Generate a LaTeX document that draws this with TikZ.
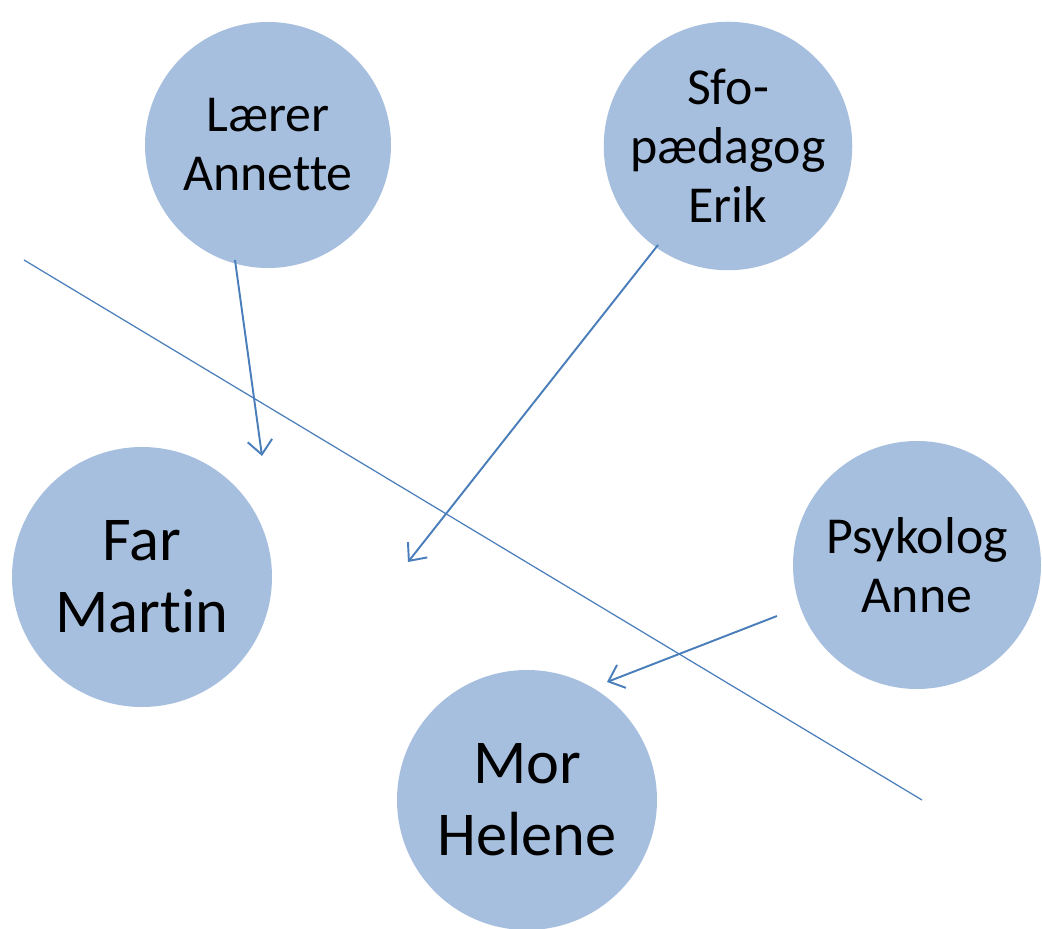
\documentclass[tikz,border=0pt]{standalone}
\usepackage{fontspec}
\setmainfont{Carlito}[Ligatures={NoCommon}]
\usetikzlibrary{arrows.meta}

\definecolor{circfill}{RGB}{167,191,222}
\definecolor{linkblue}{RGB}{74,126,187}

\begin{document}
\begin{tikzpicture}[x=0.02cm, y=-0.02cm,
    person/.style={circle, fill=circfill, inner sep=0pt, align=center},
    small/.style={person, minimum size=246*0.02cm, font=\fontsize{29.5}{33.6}\selectfont},
    big/.style={person, minimum size=260*0.02cm, font=\fontsize{35.5}{41}\selectfont},
    link/.style={draw=linkblue, line width=1.1pt, -{Straight Barb[length=8pt, width=14pt, line width=1.1pt]}}]
  \useasboundingbox (0,0) rectangle (1042,929);

  % Personer
  \node[small] (laerer) at (268,145) {Lærer\\Annette};
  \node[small] (sfo) at (728,146) {Sfo-\\pædagog\\Erik};
  \node[small, minimum size=248*0.02cm] (psyk) at (917,565) {Psykolog\\Anne};
  \node[big] (far) at (142,577) {Far\\Martin};
  \node[big] (mor) at (527,800) {Mor\\Helene};

  % Skillelinje
  \coordinate (skilA) at (24,260);
  \coordinate (skilB) at (922,800);
  \draw[linkblue, line width=0.7pt] (skilA) -- (skilB);

  % Pile
  \coordinate (laererStart) at (235,260);
  \coordinate (laererEnd) at (262,456);
  \coordinate (sfoStart) at (658,245);
  \coordinate (sfoEnd) at (408,562);
  \coordinate (psykStart) at (777,616);
  \coordinate (psykEnd) at (607,682);
  \draw[link] (laererStart) -- (laererEnd);
  \draw[link] (sfoStart) -- (sfoEnd);
  \draw[link] (psykStart) -- (psykEnd);
\end{tikzpicture}
\end{document}
